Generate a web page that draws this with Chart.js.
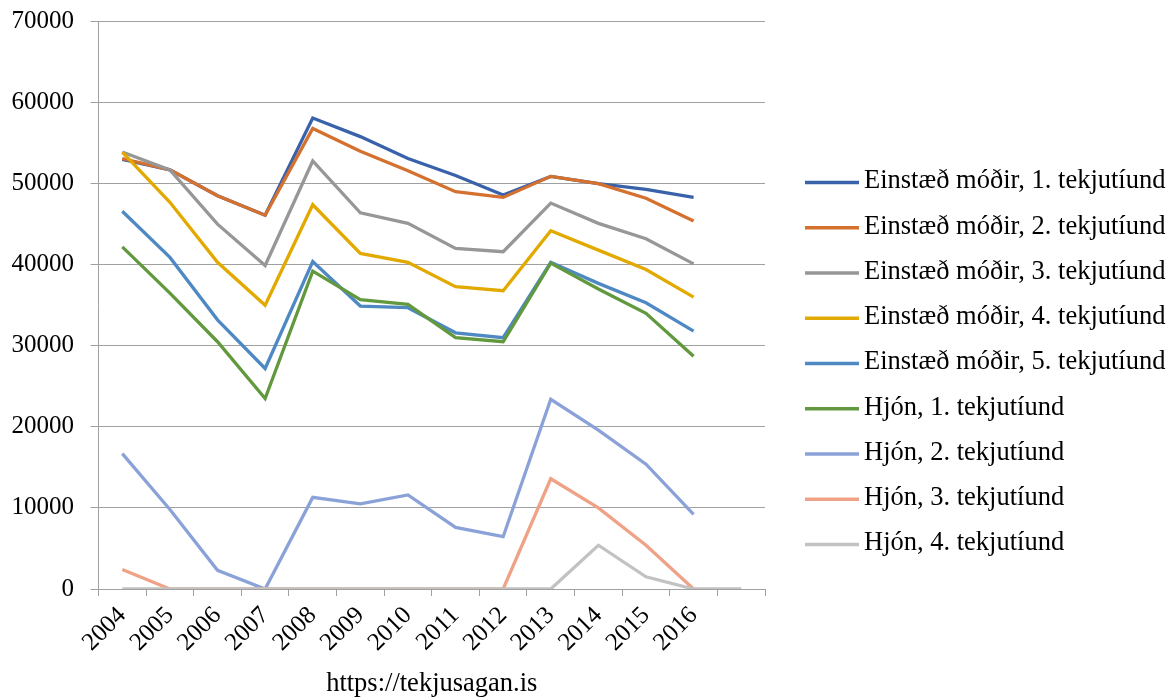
<!DOCTYPE html>
<html>
<head>
<meta charset="utf-8">
<script src="https://cdn.jsdelivr.net/npm/chart.js@4.4.1/dist/chart.umd.min.js"></script>
<style>
html,body{margin:0;padding:0;background:#fff;}
#wrap{width:1175px;height:700px;position:relative;}
</style>
</head>
<body>
<div id="wrap"><canvas id="c"></canvas></div>
<script>
const years = ['2004','2005','2006','2007','2008','2009','2010','2011','2012','2013','2014','2015','2016',''];
const seriesNames = [
  'Einstæð móðir, 1. tekjutíund',
  'Einstæð móðir, 2. tekjutíund',
  'Einstæð móðir, 3. tekjutíund',
  'Einstæð móðir, 4. tekjutíund',
  'Einstæð móðir, 5. tekjutíund',
  'Hjón, 1. tekjutíund',
  'Hjón, 2. tekjutíund',
  'Hjón, 3. tekjutíund',
  'Hjón, 4. tekjutíund'
];
const einstaedModir1 = [53000, 51700, 48500, 46100, 58100, 55800, 53100, 51000, 48600, 50900, 50000, 49300, 48300];
const einstaedModir2 = [53100, 51700, 48500, 46100, 56800, 54000, 51600, 49000, 48300, 50900, 50000, 48200, 45400];
const einstaedModir3 = [53900, 51700, 45000, 39900, 52800, 46400, 45100, 42000, 41600, 47600, 45100, 43200, 40100];
const einstaedModir4 = [53900, 47700, 40300, 35000, 47400, 41400, 40300, 37300, 36800, 44200, 41800, 39400, 36000];
const einstaedModir5 = [46600, 40900, 33200, 27200, 40400, 34900, 34700, 31600, 31000, 40300, 37700, 35300, 31800];
const hjon1 = [42200, 36500, 30500, 23500, 39200, 35700, 35100, 31000, 30500, 40200, 37000, 34000, 28700];
const hjon2 = [16700, 9800, 2300, 0, 11300, 10500, 11600, 7600, 6450, 23400, 19600, 15400, 9200];
const hjon3 = [2400, 0, 0, 0, 0, 0, 0, 0, 0, 13600, 10000, 5400, 0];
const hjon4 = [0, 0, 0, 0, 0, 0, 0, 0, 0, 0, 5400, 1500, 0, 0];
const yTicks = [0, 10000, 20000, 30000, 40000, 50000, 60000, 70000];
const axisTitle = 'https://tekjusagan.is';

const seriesValues = [einstaedModir1, einstaedModir2, einstaedModir3, einstaedModir4, einstaedModir5, hjon1, hjon2, hjon3, hjon4];
const seriesColors = ['#3A62AA', '#D5712F', '#979797', '#E2A900', '#4E89C3', '#63993E', '#8BA2D9', '#EFA286', '#C2C2C2'];

const FAMILY = '"Liberation Serif", "Times New Roman", serif';
const FONT = {family: FAMILY, size: 26.5};
const TICKFONT = {family: FAMILY, size: 25};

const datasets = seriesNames.map((name, i) => ({
  label: name,
  data: seriesValues[i],
  borderColor: seriesColors[i],
  backgroundColor: seriesColors[i],
  borderWidth: 3.3,
  pointRadius: 0,
  pointHoverRadius: 0,
  tension: 0,
  fill: false,
  order: seriesNames.length - i
}));

const sideLegend = {
  id: 'sideLegend',
  afterDraw(chart) {
    const ctx = chart.ctx;
    const x0 = 805, lineLen = 54, textX = 864, top = 182.5, step = 45.25;
    ctx.save();
    ctx.font = FONT.size + 'px ' + FAMILY;
    ctx.textBaseline = 'middle';
    ctx.textAlign = 'left';
    chart.data.datasets.forEach((ds, i) => {
      const y = top + i * step;
      ctx.strokeStyle = ds.borderColor;
      ctx.lineWidth = 3.3;
      ctx.beginPath();
      ctx.moveTo(x0, y);
      ctx.lineTo(x0 + lineLen, y);
      ctx.stroke();
      ctx.fillStyle = '#000';
      ctx.fillText(ds.label, textX, y - 1);
    });
    ctx.restore();
  }
};

new Chart(document.getElementById('c'), {
  type: 'line',
  data: {labels: years, datasets},
  options: {
    responsive: true,
    maintainAspectRatio: false,
    animation: false,
    layout: {padding: {left: 0, right: 410, top: 21.5, bottom: 0}},
    plugins: {
      legend: {display: false},
      tooltip: {enabled: false}
    },
    scales: {
      x: {
        type: 'category',
        offset: true,
        afterFit(scale) { scale.paddingLeft = 0; scale.paddingRight = 0; scale.height = 111; },
        grid: {offset: true, drawOnChartArea: false, drawTicks: true, tickLength: 7, color: '#A0A0A0', lineWidth: 1},
        border: {color: '#A0A0A0', width: 1},
        ticks: {minRotation: 45, maxRotation: 45, autoSkip: false, font: TICKFONT, color: '#000', padding: 5},
        title: {display: true, text: axisTitle, font: FONT, color: '#000', padding: {top: 4, bottom: 0}}
      },
      y: {
        min: 0,
        max: 70000,
        afterFit(scale) { scale.paddingTop = 0; scale.paddingBottom = 0; scale.width = 98.5; },
        afterBuildTicks(scale) { scale.ticks = yTicks.map(v => ({value: v})); },
        ticks: {font: TICKFONT, color: '#000', padding: 16.5, callback: v => String(v)},
        grid: {color: '#A0A0A0', lineWidth: 1, tickLength: 8},
        border: {color: '#A0A0A0', width: 1}
      }
    }
  },
  plugins: [sideLegend]
});
</script>
</body>
</html>
